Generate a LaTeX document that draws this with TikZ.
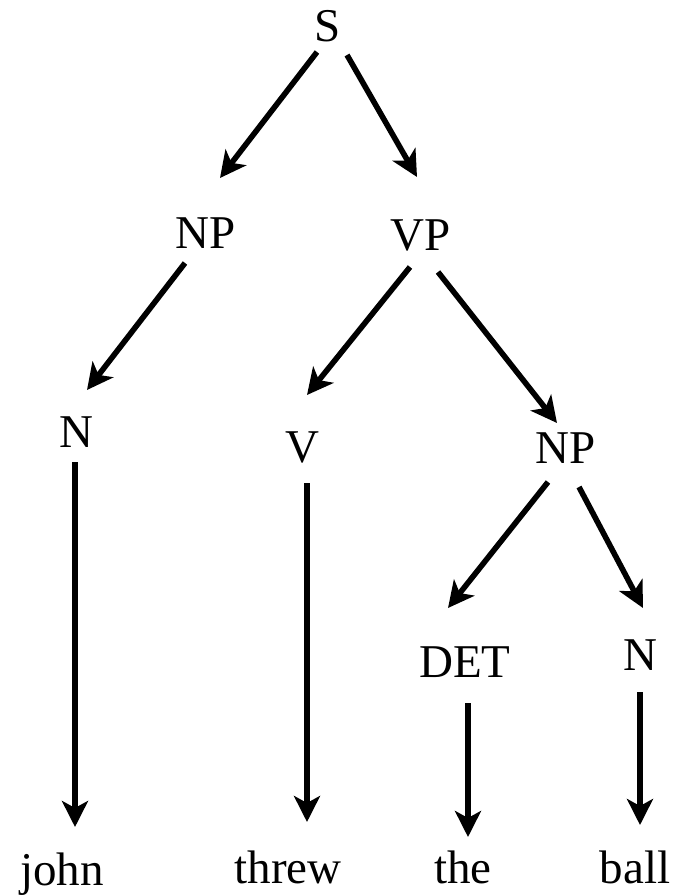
\documentclass[tikz,border=0pt]{standalone}
\usepackage{fontspec}
\setmainfont{Liberation Serif}
\usetikzlibrary{arrows.meta}
\begin{document}
\begin{tikzpicture}[x=1pt,y=-1pt,
  lbl/.style={anchor=base,inner sep=0pt,font=\fontsize{47}{50}\selectfont},
  arr/.style={line width=5.6pt,-{Stealth[length=26pt,width=26pt,inset=7pt]}}]
\useasboundingbox[fill=white] (0,0) rectangle (681,896);
\node[lbl] (S)     at (328,42)  {S};
\node[lbl] (NPl)   at (206,248) {NP};
\node[lbl] (VP)    at (421,250) {VP};
\node[lbl] (Nl)    at (76,447)  {N};
\node[lbl] (V)     at (302,462) {V};
\node[lbl] (NPr)   at (566,463) {NP};
\node[lbl] (DET)   at (465,677) {DET};
\node[lbl] (Nr)    at (640,670) {N};
\node[lbl] (john)  at (62,885)  {john};
\node[lbl] (threw) at (288,883) {threw};
\node[lbl] (the)   at (463,883) {the};
\node[lbl] (ball)  at (635,883) {ball};
% S -> NP, VP
\draw[arr] ([shift={(-11,10)}]S.base) -- ([shift={(14,-70)}]NPl.base);
\draw[arr] ([shift={(19,13)}]S.base) -- ([shift={(-4,-73)}]VP.base);
% NP -> N
\draw[arr] ([shift={(-21,15)}]NPl.base) -- ([shift={(11,-57)}]Nl.base);
% VP -> V, NP
\draw[arr] ([shift={(-11,17)}]VP.base) -- ([shift={(5,-67)}]V.base);
\draw[arr] ([shift={(17,22)}]VP.base) -- ([shift={(-9,-40)}]NPr.base);
% N -> john, V -> threw
\draw[arr] ([shift={(-1,15)}]Nl.base) -- ([shift={(13,-58)}]john.base);
\draw[arr] ([shift={(5,21)}]V.base) -- ([shift={(19,-61)}]threw.base);
% NP -> DET, N
\draw[arr] ([shift={(-18,19)}]NPr.base) -- ([shift={(-17,-69)}]DET.base);
\draw[arr] ([shift={(13,24)}]NPr.base) -- ([shift={(3,-62)}]Nr.base);
% DET -> the, N -> ball
\draw[arr] ([shift={(3,26)}]DET.base) -- ([shift={(5,-46)}]the.base);
\draw[arr] ([shift={(0,22)}]Nr.base) -- ([shift={(5,-58)}]ball.base);
\end{tikzpicture}
\end{document}
